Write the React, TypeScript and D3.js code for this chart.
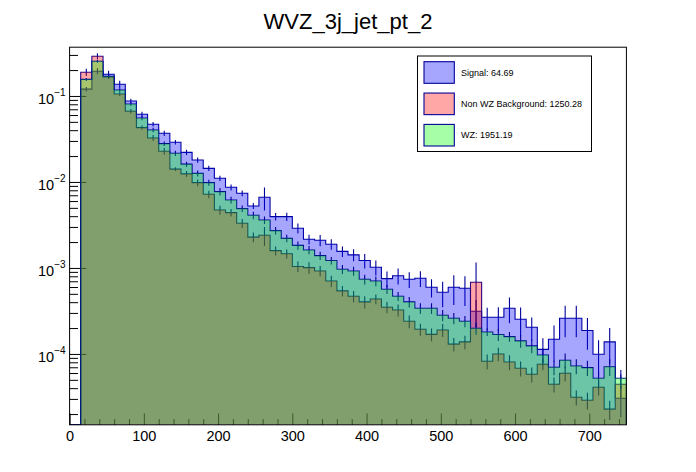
import * as d3 from "d3";
import { useEffect, useRef } from "react";

const title = "WVZ_3j_jet_pt_2";
const binWidth = 15;
const xMax = 750;
const yMin = 1.5e-5;
const yMax = 0.369;

// bin contents (normalised), bin 0 = [0,15)
const signal = [
  0, 0.12, 0.194, 0.179, 0.137, 0.0875, 0.0613, 0.0469, 0.0368, 0.029, 0.0221,
  0.018, 0.0144, 0.01104, 0.00867, 0.00739, 0.00526, 0.00664, 0.00395, 0.00395, 0.0029,
  0.00216, 0.0021, 0.00189, 0.00156, 0.00142, 0.00122, 0.00102, 0.000751, 0.000813, 0.000739,
  0.000759, 0.000597, 0.000521, 0.000597, 0.000581, 0.000314, 0.000267, 0.000267, 0.00034, 0.000253,
  0.000204, 0.000113, 0.000148, 0.00026, 0.00026, 0.000187, 0.0000993, 0.000138, 0.0000305,
];
const nonWz = [
  0, 0.189, 0.29, 0.166, 0.1055, 0.0664, 0.0428, 0.0325, 0.0228, 0.0141, 0.0124,
  0.00982, 0.00719, 0.00472, 0.0044, 0.00331, 0.00228, 0.0024, 0.00159, 0.00146, 0.00104,
  0.00101, 0.000923, 0.000706, 0.000541, 0.000469, 0.000403, 0.000436, 0.000349, 0.000325, 0.00024,
  0.000194, 0.000169, 0.00019, 0.00013, 0.000138, 0.000682, 0.0000822, 0.0001, 0.0000807, 0.0000682,
  0.0000581, 0.0000759, 0.0000445, 0.0000597, 0.0000314, 0.000029, 0.000041, 0.0000228, 0.0000445,
];
const wz = [
  0, 0.156, 0.253, 0.169, 0.1174, 0.0807, 0.0555, 0.0402, 0.0279, 0.0216, 0.0161,
  0.0126, 0.00982, 0.00771, 0.00618, 0.0049, 0.0041, 0.00361, 0.00272, 0.00221, 0.00183,
  0.00162, 0.00139, 0.00122, 0.000966, 0.000923, 0.000739, 0.000706, 0.000565, 0.000469, 0.000403,
  0.00034, 0.00034, 0.000282, 0.00026, 0.00024, 0.000199, 0.00018, 0.000168, 0.000159, 0.000142,
  0.000124, 0.0000973, 0.00007, 0.0000845, 0.0000725, 0.0000693, 0.0000521, 0.0000711, 0.0000521,
];

// relative errors per bin
const signalErr = [
  0, 0.06, 0.08, 0.1, 0.1, 0.06, 0.07, 0.06, 0.07, 0.06, 0.07,
  0.07, 0.07, 0.07, 0.08, 0.08, 0.08, 0.3, 0.1, 0.11, 0.13,
  0.13, 0.15, 0.14, 0.14, 0.16, 0.19, 0.2, 0.21, 0.21, 0.21,
  0.21, 0.24, 0.33, 0.38, 0.38, 0.35, 0.29, 0.31, 0.33, 0.37,
  0.3, 0.35, 0.45, 0.4, 0.4, 0.4, 0.45, 0.45, 0.4,
];
const nonWzErr = [
  0, 0.1, 0.08, 0.05, 0.05, 0.06, 0.06, 0.08, 0.09, 0.05, 0.08,
  0.09, 0.1, 0.12, 0.1, 0.12, 0.13, 0.25, 0.12, 0.12, 0.14,
  0.15, 0.14, 0.15, 0.14, 0.15, 0.16, 0.13, 0.15, 0.16, 0.17,
  0.16, 0.17, 0.17, 0.18, 0.18, 0.7, 0.2, 0.18, 0.2, 0.2,
  0.2, 0.15, 0.2, 0.2, 0.2, 0.22, 0.2, 0.25, 0.3,
];
const wzErr = [
  0, 0.04, 0.04, 0.05, 0.05, 0.05, 0.06, 0.06, 0.06, 0.07, 0.07,
  0.08, 0.08, 0.1, 0.09, 0.09, 0.1, 0.1, 0.1, 0.1, 0.11,
  0.11, 0.11, 0.1, 0.12, 0.12, 0.13, 0.13, 0.12, 0.12, 0.14,
  0.14, 0.14, 0.15, 0.15, 0.15, 0.16, 0.1, 0.16, 0.13, 0.17,
  0.18, 0.18, 0.19, 0.2, 0.2, 0.2, 0.21, 0.22, 0.25,
];

const legendLabels = ["Signal: 64.69", "Non WZ Background: 1250.28", "WZ: 1951.19"];
const xMajorTicks = [0, 100, 200, 300, 400, 500, 600, 700];
const yMajorTicks = [1e-4, 1e-3, 1e-2, 1e-1];

const lineColor = "#000099";
const hists = [
  { values: signal, errors: signalErr, color: "#0000ff" },
  { values: nonWz, errors: nonWzErr, color: "#ff0000" },
  { values: wz, errors: wzErr, color: "#00ff00" },
];

export default function App() {
  const svgRef = useRef<SVGSVGElement | null>(null);

  useEffect(() => {
    if (!svgRef.current) return;
    document.body.style.margin = "0";

    const width = 696;
    const height = 472;
    const margin = { top: 47.2, right: 69.6, bottom: 47.2, left: 69.6 };
    const left = margin.left;
    const right = width - margin.right;
    const top = margin.top;
    const bottom = height - margin.bottom;
    const font = "'Liberation Sans', Arial, Helvetica, sans-serif";

    const svg = d3.select(svgRef.current);
    svg.selectAll("*").remove();
    svg.attr("viewBox", `0 0 ${width} ${height}`).attr("font-family", font);

    svg.append("rect").attr("width", width).attr("height", height).attr("fill", "#fff");

    const x = d3.scaleLinear().domain([0, xMax]).range([left, right]);
    const y = d3.scaleLog().domain([yMin, yMax]).range([bottom, top]).clamp(true);
    const yv = (v: number) => (v > 0 ? y(v) : bottom);

    // axes first: ROOT paints the histograms over the tick marks
    const xMinor = d3.range(0, xMax + 1, 20).filter((v) => v % 100 !== 0);
    const xMinorG = svg
      .append("g")
      .attr("transform", `translate(0,${bottom})`)
      .call(d3.axisBottom(x).tickValues(xMinor).tickSize(-5.7).tickFormat(() => "") as any);
    xMinorG.select(".domain").remove();

    const xAxisG = svg
      .append("g")
      .attr("transform", `translate(0,${bottom})`)
      .call(d3.axisBottom(x).tickValues(xMajorTicks).tickSize(-11.3).tickPadding(6).tickFormat(d3.format("d")) as any);
    xAxisG.select(".domain").remove();
    xAxisG.selectAll("text").attr("font-size", 14.5).attr("font-family", font).attr("fill", "#000");

    const yMinor: number[] = [];
    [-5, -4, -3, -2, -1].forEach((e) => {
      for (let k = 2; k <= 9; k++) {
        const v = k * Math.pow(10, e);
        if (v >= yMin && v <= yMax) yMinor.push(v);
      }
    });
    const yMinorG = svg
      .append("g")
      .attr("transform", `translate(${left},0)`)
      .call(d3.axisLeft(y).tickValues(yMinor).tickSize(-8.4).tickFormat(() => "") as any);
    yMinorG.select(".domain").remove();

    const yAxisG = svg
      .append("g")
      .attr("transform", `translate(${left},0)`)
      .call(d3.axisLeft(y).tickValues(yMajorTicks).tickSize(-16.7).tickPadding(4).tickFormat(() => "") as any);
    yAxisG.select(".domain").remove();
    yAxisG.selectAll<SVGTextElement, number>(".tick text").each(function (d) {
      const t = d3.select(this);
      t.attr("font-size", 14.5).attr("font-family", font).attr("fill", "#000").attr("dy", "0.5em");
      t.append("tspan").text("10");
      t.append("tspan")
        .attr("dy", -8)
        .attr("font-size", 10)
        .text("\u2212" + Math.round(-Math.log10(d)));
    });

    svg
      .append("clipPath")
      .attr("id", "plot-clip")
      .append("rect")
      .attr("x", left)
      .attr("y", top)
      .attr("width", right - left)
      .attr("height", bottom - top);

    const plot = svg.append("g").attr("clip-path", "url(#plot-clip)");
    const line = d3.line<[number, number]>();

    hists.forEach((h) => {
      const pts: [number, number][] = [[x(0), bottom]];
      h.values.forEach((v, i) => {
        pts.push([x(i * binWidth), yv(v)]);
        pts.push([x((i + 1) * binWidth), yv(v)]);
      });
      pts.push([x(xMax), bottom]);

      plot
        .append("path")
        .attr("d", line(pts))
        .attr("fill", "none")
        .attr("stroke", lineColor)
        .attr("stroke-width", 1.1);

      plot
        .append("g")
        .selectAll("line")
        .data(h.values.map((v, i) => ({ v, e: h.errors[i], i })).filter((d) => d.v > 0))
        .join("line")
        .attr("x1", (d) => x((d.i + 0.5) * binWidth))
        .attr("x2", (d) => x((d.i + 0.5) * binWidth))
        .attr("y1", (d) => yv(d.v * (1 + d.e)))
        .attr("y2", (d) => (d.e >= 1 ? bottom : yv(d.v * (1 - d.e))))
        .attr("stroke", lineColor)
        .attr("stroke-width", 1.1);

      plot
        .append("path")
        .attr("d", line(pts) + "Z")
        .attr("fill", h.color)
        .attr("fill-opacity", 0.35)
        .attr("stroke", "none");
    });

    svg
      .append("rect")
      .attr("x", left)
      .attr("y", top)
      .attr("width", right - left)
      .attr("height", bottom - top)
      .attr("fill", "none")
      .attr("stroke", "#000")
      .attr("stroke-width", 1);

    svg
      .append("text")
      .attr("x", width / 2)
      .attr("y", 29)
      .attr("text-anchor", "middle")
      .attr("font-size", 22)
      .text(title);

    // legend
    const legend = svg.append("g");
    legend
      .append("rect")
      .attr("x", 417.5)
      .attr("y", 56)
      .attr("width", 174)
      .attr("height", 95.5)
      .attr("fill", "#fff")
      .attr("stroke", "#000")
      .attr("stroke-width", 1);

    const rowY = d3.scalePoint<number>().domain([0, 1, 2]).range([72.5, 135.2]);
    legendLabels.forEach((label, i) => {
      legend
        .append("rect")
        .attr("x", 424)
        .attr("y", rowY(i)! - 10.8)
        .attr("width", 30.3)
        .attr("height", 21.6)
        .attr("fill", hists[i].color)
        .attr("fill-opacity", 0.35)
        .attr("stroke", lineColor)
        .attr("stroke-width", 1.1);
      legend
        .append("text")
        .attr("x", 461)
        .attr("y", rowY(i)!)
        .attr("dy", "0.35em")
        .attr("font-size", 9)
        .text(label);
    });
  }, []);

  return <svg ref={svgRef} width={696} height={472} style={{ display: "block" }} />;
}
